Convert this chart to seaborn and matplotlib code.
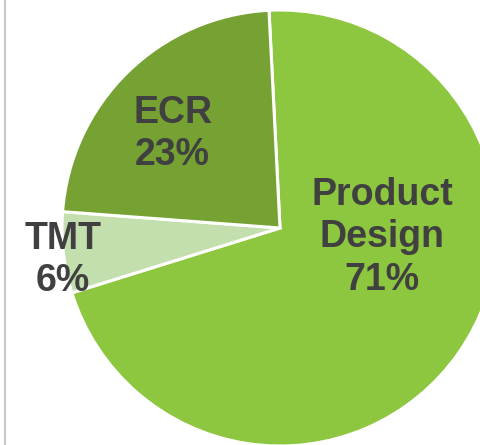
import matplotlib
matplotlib.use('Agg')
import matplotlib.pyplot as plt
import seaborn as sns
from matplotlib.lines import Line2D

labels = ['Product\nDesign', 'TMT', 'ECR']
shares = [71, 6, 23]
colors = ['#8DC63F', '#C3DFAE', '#76A233']
# label anchor points (data units, pie radius = 1)
label_pos = [(0.468, -0.043), (-0.995, -0.145), (-0.493, 0.43)]

sns.set_theme(style='white')
plt.rcParams['font.family'] = ['Liberation Sans', 'DejaVu Sans']

fig = plt.figure(figsize=(4.8, 4.45), dpi=100)
ax = fig.add_axes([0, 0, 1, 1])
wedges, _ = ax.pie(shares, colors=colors, startangle=92.9, counterclock=False,
                   wedgeprops=dict(edgecolor='white', linewidth=2.2))

for lab, val, (x, y) in zip(labels, shares, label_pos):
    ax.text(x, y, f'{lab}\n{val}%', ha='center', va='center', fontsize=27,
            fontweight='bold', color='#404040', linespacing=1.22)

# place pie so that centre sits at (280, 228) px with radius 218 px
ax.set_xlim((0 - 280) / 218, (480 - 280) / 218)
ax.set_ylim((228 - 445) / 218, 228 / 218)
ax.set_aspect('equal')
ax.axis('off')

fig.add_artist(Line2D([4.5 / 480, 4.5 / 480], [0, 1], transform=fig.transFigure,
                      color='#c8c8c8', linewidth=1.5))

fig.savefig('out.png', dpi=100)
